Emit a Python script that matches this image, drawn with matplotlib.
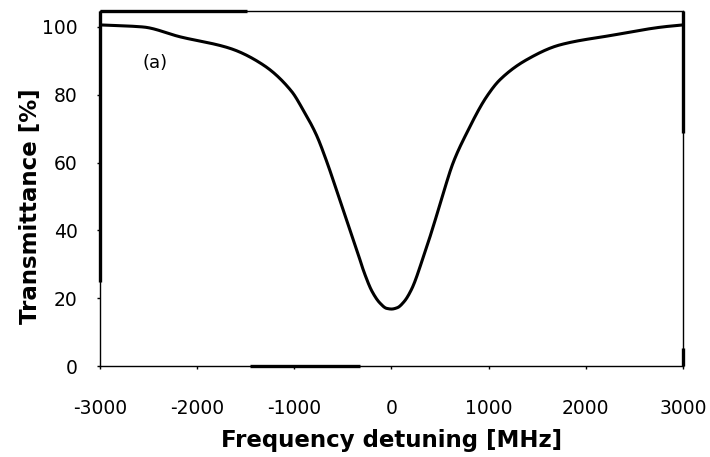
import matplotlib
matplotlib.use("Agg")
import matplotlib.pyplot as plt
import numpy as np

# Data
freq_mhz = [-3000, -2560, -2177, -1663, -1320, -1028, -909, -772, -669, -566,
            -463, -360, -280, -200, -120, -50, 0, 60, 130, 206, 326, 429, 532,
            635, 772, 978, 1115, 1389, 1732, 2281, 2790, 3000]
transmittance = [100.6, 100.0, 97.1, 93.7, 88.8, 81.0, 75.5, 68.1, 60.5, 51.9,
                 43.1, 34.5, 27.5, 22.0, 18.6, 17.0, 16.8, 17.2, 19.0, 22.6,
                 32.0, 41.1, 50.9, 60.0, 68.6, 79.4, 84.4, 90.3, 94.7, 97.6,
                 100.0, 100.6]
x_ticks = [-3000, -2000, -1000, 0, 1000, 2000, 3000]
x_ticklabels = ["-3000", "-2000", "-1000", "0", "1000", "2000", "3000"]
y_ticks = [0, 20, 40, 60, 80, 100]
y_ticklabels = ["0", "20", "40", "60", "80", "100"]

plt.rcParams['font.family'] = ['DejaVu Sans']


def pchip(x, y, xn):
    """Monotone piecewise cubic Hermite interpolation (Fritsch-Carlson)."""
    x = np.asarray(x, float)
    y = np.asarray(y, float)
    h = np.diff(x)
    d = np.diff(y) / h
    m = np.zeros_like(y)
    for i in range(1, len(x) - 1):
        if d[i - 1] * d[i] > 0:
            w1 = 2 * h[i] + h[i - 1]
            w2 = h[i] + 2 * h[i - 1]
            m[i] = (w1 + w2) / (w1 / d[i - 1] + w2 / d[i])
    m[0] = d[0]
    m[-1] = d[-1]
    idx = np.clip(np.searchsorted(x, xn) - 1, 0, len(x) - 2)
    t = (xn - x[idx]) / h[idx]
    h00 = 2 * t**3 - 3 * t**2 + 1
    h10 = t**3 - 2 * t**2 + t
    h01 = -2 * t**3 + 3 * t**2
    h11 = t**3 - t**2
    return (h00 * y[idx] + h10 * h[idx] * m[idx]
            + h01 * y[idx + 1] + h11 * h[idx] * m[idx + 1])


fig = plt.figure(figsize=(7.10, 4.57), dpi=100)
ax = fig.add_axes([0.1408, 0.1991, 0.8212, 0.7768])

xd = np.linspace(min(freq_mhz), max(freq_mhz), 1500)
yd = pchip(freq_mhz, transmittance, xd)
ax.plot(xd, yd, color="black", lw=2.2, solid_capstyle="butt")

ax.set_xlim(-3000, 3000)
ax.set_ylim(0, 104.7)
ax.set_xticks(x_ticks)
ax.set_xticklabels(x_ticklabels)
ax.set_yticks(y_ticks)
ax.set_yticklabels(y_ticklabels)
ax.tick_params(axis="both", length=2, width=1, labelsize=13.5, colors="black")
ax.tick_params(axis="x", pad=22)
ax.tick_params(axis="y", pad=14)

for s in ax.spines.values():
    s.set_linewidth(1.0)
    s.set_color("black")

# thicker scan-like spine segments (styling, in axes coordinates)
tr = ax.transAxes
seg_kw = dict(color="black", lw=2.4, transform=tr, clip_on=False, solid_capstyle="butt")
ax.plot([0, 0.252], [1, 1], **seg_kw)
ax.plot([0, 0], [0.237, 1], **seg_kw)
ax.plot([1, 1], [0.656, 1], **seg_kw)
ax.plot([1, 1], [0, 0.05], **seg_kw)
ax.plot([0.257, 0.446], [0, 0], **seg_kw)

ax.text(-2434, 89.4, "(a)", fontsize=13, ha="center", va="center")

ax.set_xlabel("Frequency detuning [MHz]", fontsize=16.5, fontweight="bold", labelpad=8)
ax.set_ylabel("Transmittance [%]", fontsize=16.5, fontweight="bold")
ax.yaxis.set_label_coords(-0.10, 0.45)

fig.savefig("out.png", dpi=100)
